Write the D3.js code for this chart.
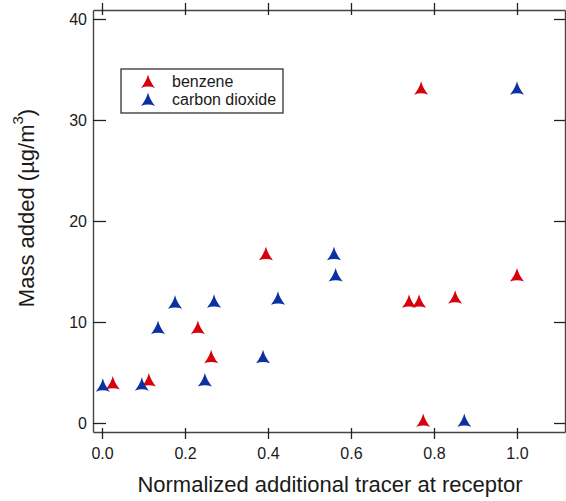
<!DOCTYPE html>
<html>
<head>
<meta charset="utf-8">
<script src="https://cdn.jsdelivr.net/npm/d3@7"></script>
<style>
  body { margin: 0; background: #fff; }
  text { font-family: "Liberation Sans", Arial, sans-serif; fill: #1a1a1a; }
</style>
</head>
<body>
<div id="chart"></div>
<script>
// benzene points (red)
var benzeneX = [0.026, 0.113, 0.231, 0.263, 0.395, 0.740, 0.764, 0.774, 0.851, 1.000, 0.769];
var benzeneY = [3.8, 4.1, 9.3, 6.4, 16.6, 11.9, 11.9, 0.1, 12.3, 14.5, 33.0];
// carbon dioxide points (blue)
var co2X = [0.002, 0.096, 0.135, 0.176, 0.248, 0.270, 0.388, 0.424, 0.559, 0.563, 0.873, 1.000];
var co2Y = [3.6, 3.7, 9.3, 11.8, 4.1, 11.9, 6.4, 12.2, 16.6, 14.5, 0.1, 33.0];

var xTicks = [0, 0.2, 0.4, 0.6, 0.8, 1.0];
var yTicks = [0, 10, 20, 30, 40];

var width = 566, height = 501;
var plotLeft = 93, plotRight = 565, plotTop = 10, plotBottom = 432;

var red = "#d7000c", blue = "#0a30a2";

var svg = d3.select("#chart")
    .append("svg")
    .attr("width", width)
    .attr("height", height);

var x = d3.scaleLinear().domain([-0.0217, 1.1157]).range([plotLeft, plotRight]);
var y = d3.scaleLinear().domain([-0.891, 40.89]).range([plotBottom, plotTop]);

// bottom axis, ticks crossing the line
var gx = svg.append("g")
    .attr("transform", "translate(0," + plotBottom + ")")
    .call(d3.axisBottom(x).tickValues(xTicks).tickFormat(d3.format(".1f")).tickSizeOuter(0).tickSizeInner(6).tickPadding(10));
gx.selectAll(".tick line").attr("y1", -4).attr("y2", 7);

// top mirror axis
var gt = svg.append("g")
    .attr("transform", "translate(0," + plotTop + ")")
    .call(d3.axisTop(x).tickValues(xTicks).tickFormat("").tickSizeOuter(0));
gt.selectAll(".tick line").attr("y1", -7).attr("y2", 5);

// left axis, ticks inside
var gy = svg.append("g")
    .attr("transform", "translate(" + plotLeft + ",0)")
    .call(d3.axisLeft(y).tickValues(yTicks).tickSizeInner(-13).tickSizeOuter(0).tickPadding(6));

// right mirror axis
var gr = svg.append("g")
    .attr("transform", "translate(" + plotRight + ",0)")
    .call(d3.axisRight(y).tickValues(yTicks).tickFormat("").tickSizeInner(-11).tickSizeOuter(0));

svg.selectAll(".domain").attr("stroke", "#444").attr("stroke-width", 1.4);
svg.selectAll(".tick line").attr("stroke", "#222").attr("stroke-width", 1.3);
svg.selectAll(".tick text").style("font-size", "16px").attr("fill", "#1a1a1a")
    .style("font-family", "'Liberation Sans', Arial, sans-serif");

// concave triangle marker
var marker = "M0,-7.5 Q1.6,-1 7,6 Q0,3.2 -7,6 Q-1.6,-1 0,-7.5Z";

function drawPoints(xs, ys, color) {
    svg.append("g").selectAll("path")
        .data(xs.map(function(d, i) { return {x: d, y: ys[i]}; }))
        .enter()
        .append("path")
        .attr("d", marker)
        .attr("fill", color)
        .attr("transform", function(d) {
            return "translate(" + x(d.x) + "," + (y(d.y) - 1) + ")";
        });
}
drawPoints(benzeneX, benzeneY, red);
drawPoints(co2X, co2Y, blue);

// legend
var lg = svg.append("g");
lg.append("rect").attr("x", 121).attr("y", 69).attr("width", 162).attr("height", 44)
    .attr("fill", "#fff").attr("stroke", "#333").attr("stroke-width", 1.3);
[["benzene", red], ["carbon dioxide", blue]].forEach(function(d, i) {
    lg.append("path").attr("d", marker).attr("fill", d[1])
        .attr("transform", "translate(148," + (82 + i * 18) + ")");
    lg.append("text").attr("x", 172).attr("y", 87 + i * 18)
        .style("font-size", "16px").text(d[0]);
});

// axis titles
svg.append("text")
    .attr("x", 330).attr("y", 492)
    .attr("text-anchor", "middle")
    .style("font-size", "22px")
    .text("Normalized additional tracer at receptor");

var yt = svg.append("text")
    .attr("transform", "translate(34,208) rotate(-90)")
    .attr("text-anchor", "middle")
    .style("font-size", "22px");
yt.append("tspan").text("Mass added (\u00b5g/m");
yt.append("tspan").attr("dy", -11).style("font-size", "15px").text("3");
yt.append("tspan").attr("dy", 11).text(")");
</script>
</body>
</html>
